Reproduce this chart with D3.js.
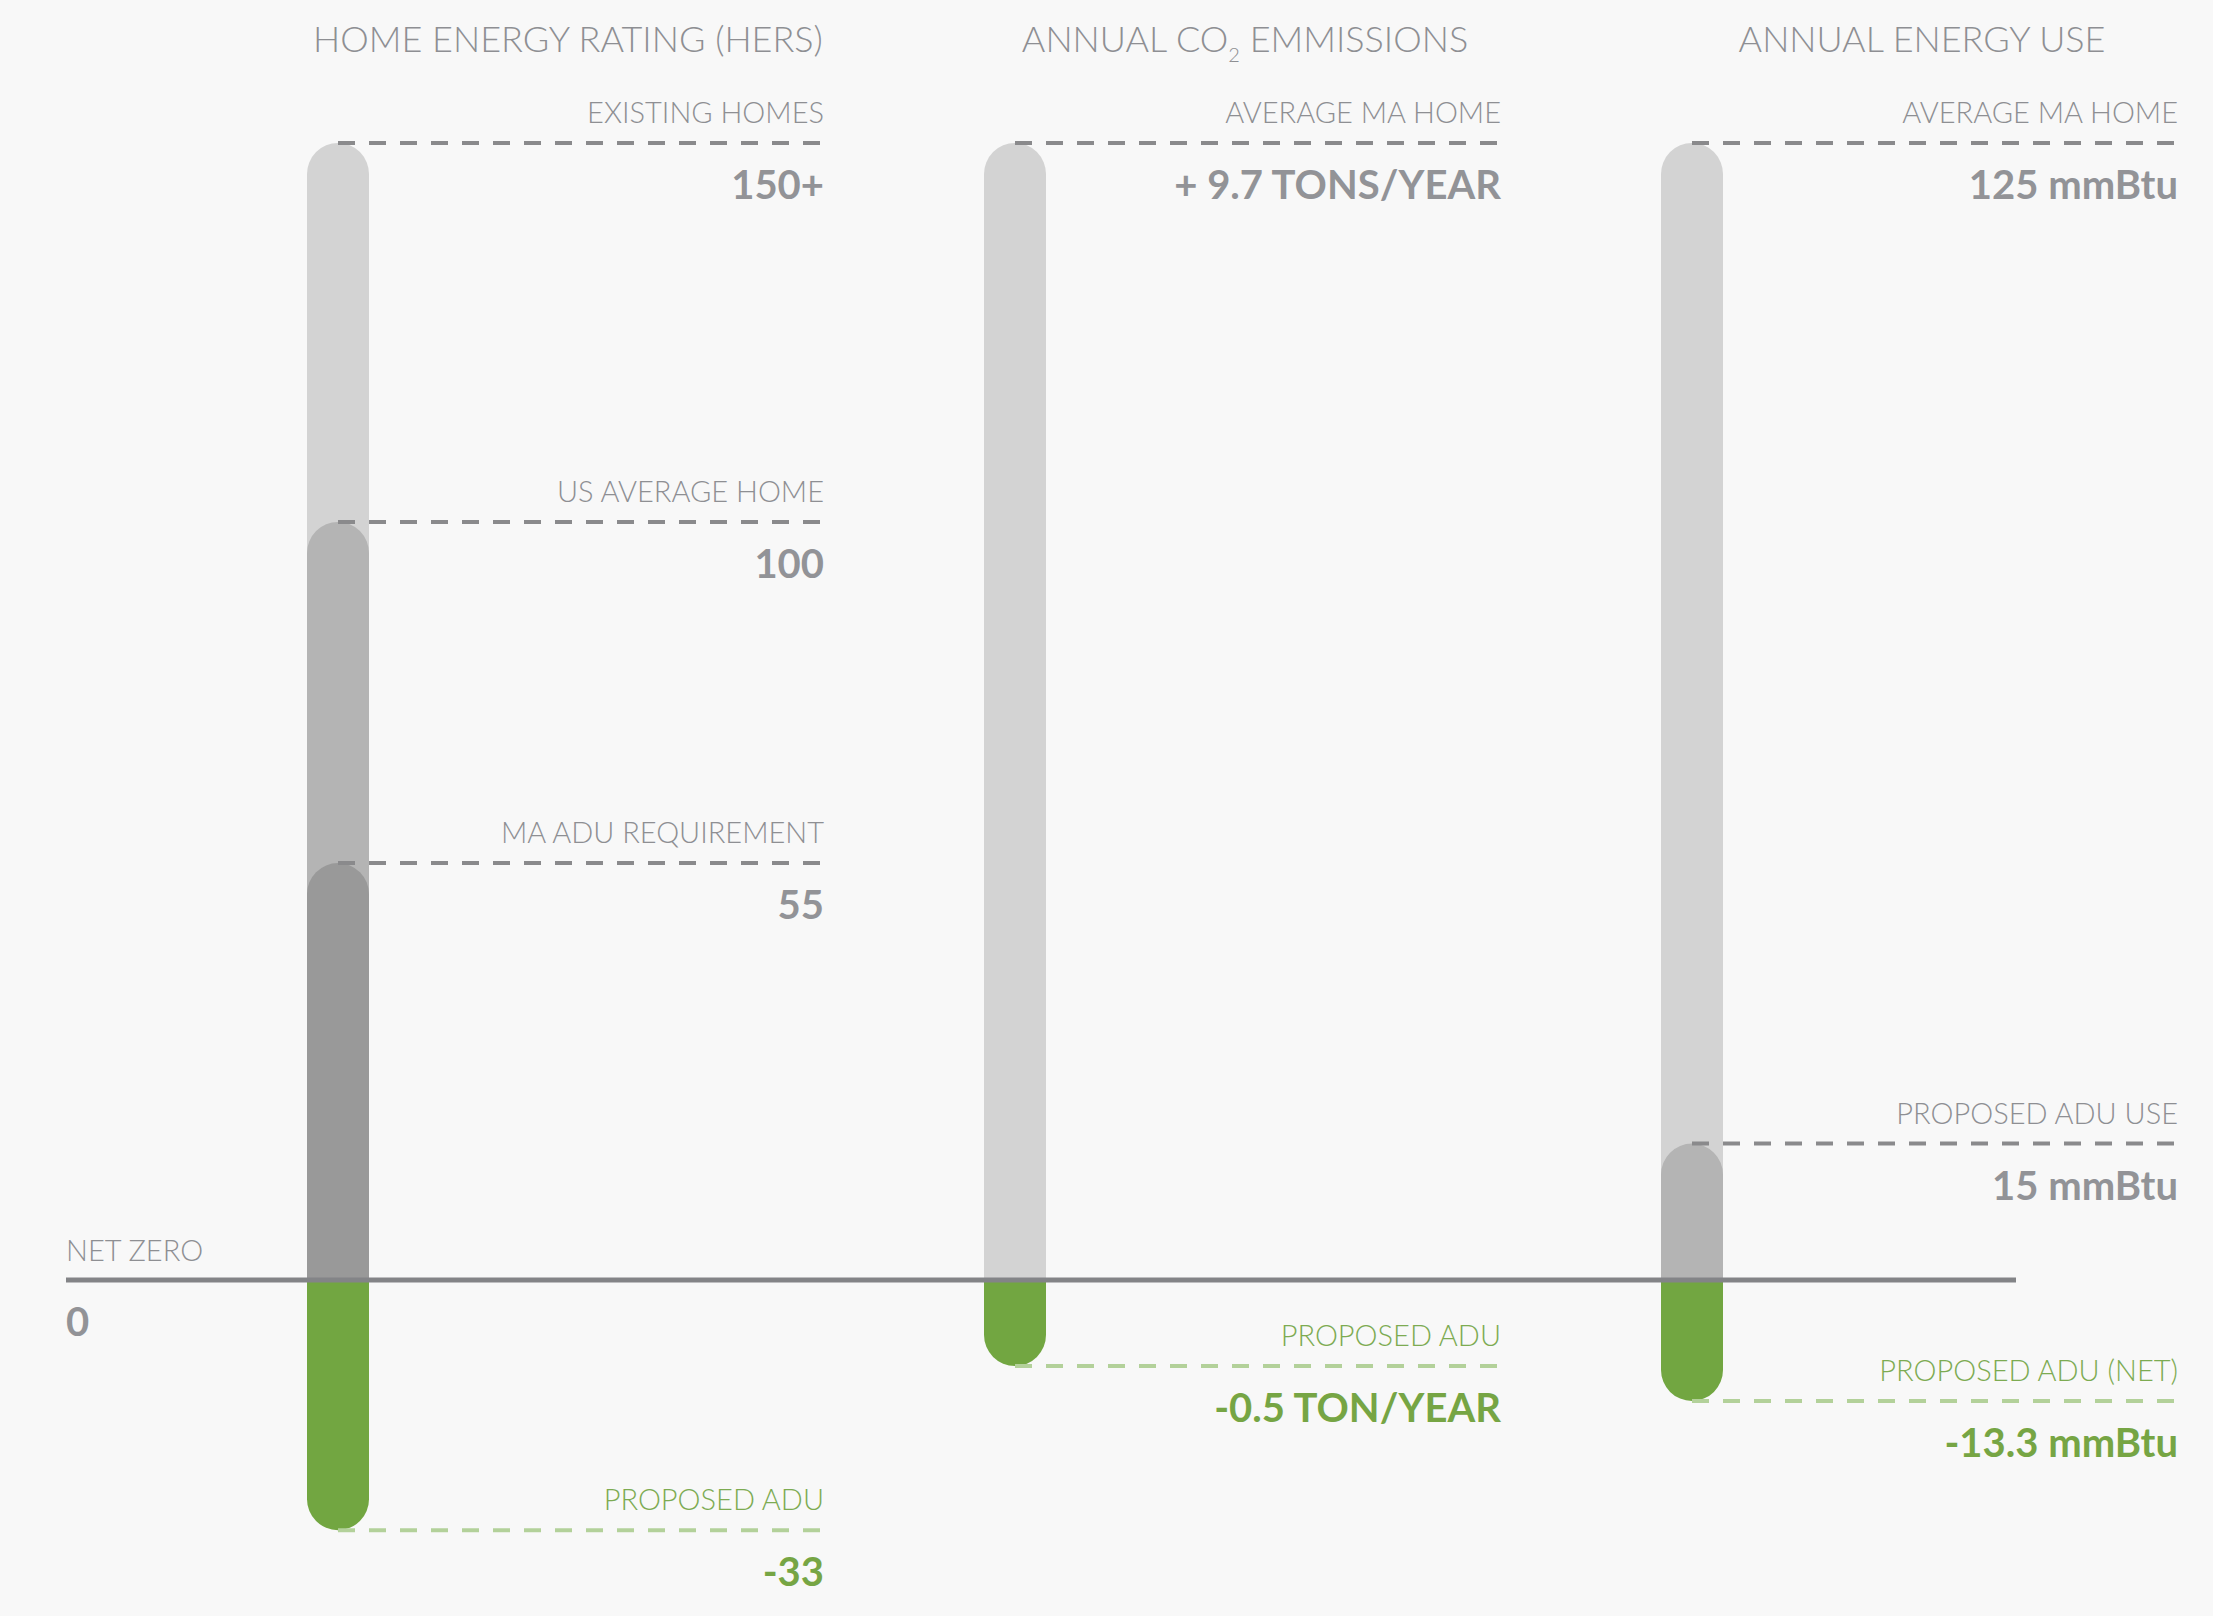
<!DOCTYPE html>
<html>
<head>
<meta charset="utf-8">
<script src="https://cdn.jsdelivr.net/npm/d3@7"></script>
<style>
  html, body { margin: 0; padding: 0; background: #f8f8f8; }
  svg { display: block; }
  .title { font-family: Lato, sans-serif; font-weight: 300; font-size: 36px; fill: #8e8f93; }
  .label { font-family: Lato, sans-serif; font-weight: 300; font-size: 29px; fill: #8e8f93; }
  .value { font-family: Lato, sans-serif; font-weight: 700; font-size: 40px; fill: #929397; }
  .neg.label { fill: #7dab52; }
  .neg.value { fill: #76a544; }
</style>
</head>
<body>
<div id="graph-container"></div>
<script>
// column titles
const titles = ['HOME ENERGY RATING (HERS)', 'ANNUAL CO|2| EMMISSIONS', 'ANNUAL ENERGY USE'];

// HERS rating
const hersLabels = ['EXISTING HOMES', 'US AVERAGE HOME', 'MA ADU REQUIREMENT', 'PROPOSED ADU'];
const hersValues = [150, 100, 55, -33];
const hersText = ['150+', '100', '55', '-33'];

// CO2 emissions (tons / year)
const co2Labels = ['AVERAGE MA HOME', 'PROPOSED ADU'];
const co2Values = [9.7, -0.5];
const co2Text = ['+ 9.7 TONS/YEAR', '-0.5 TON/YEAR'];

// energy use (mmBtu)
const energyLabels = ['AVERAGE MA HOME', 'PROPOSED ADU USE', 'PROPOSED ADU (NET)'];
const energyValues = [125, 15, -13.3];
const energyText = ['125 mmBtu', '15 mmBtu', '-13.3 mmBtu'];

const zeroLabel = 'NET ZERO';
const zeroText = '0';

const WIDTH = 2213;
const HEIGHT = 1616;
const ZERO_Y = 1280;
const TOP_Y = 143;
const BAR_W = 62;
const R = BAR_W / 2;
const DASH_LEN = 486;
const MIN_NEG = 86;

const greys = ['#d3d3d3', '#b4b4b4', '#999999'];
const green = '#72a641';

const columns = [
  {title: titles[0], labels: hersLabels, values: hersValues, text: hersText},
  {title: titles[1], labels: co2Labels, values: co2Values, text: co2Text},
  {title: titles[2], labels: energyLabels, values: energyValues, text: energyText}
];

const xScale = d3.scalePoint()
                 .domain(d3.range(columns.length))
                 .range([338, 1692]);

const svg = d3.select('#graph-container')
              .append('svg')
              .attr('width', WIDTH)
              .attr('height', HEIGHT);

const topCap = (x, yTop, yBot) =>
  `M${x - R},${yBot}L${x - R},${yTop + R}A${R},${R} 0 0 1 ${x + R},${yTop + R}L${x + R},${yBot}Z`;

const bottomCap = (x, yTop, yBot) =>
  `M${x - R},${yTop}L${x + R},${yTop}L${x + R},${yBot - R}A${R},${R} 0 0 1 ${x - R},${yBot - R}Z`;

// one linear scale per column, 0 at the net zero line, max at the top
const colScale = col => d3.scaleLinear()
                          .domain([0, d3.max(col.values)])
                          .range([ZERO_Y, TOP_Y]);

// y of a marker (tiny negatives get a minimum visible length)
const markY = (scale, v) => v >= 0 ? scale(v) : Math.max(scale(v), ZERO_Y + MIN_NEG);

columns.forEach((col, i) => {
  const cx = xScale(i);
  const yScale = colScale(col);

  const g = svg.append('g').attr('class', 'column');

  // title (with subscript for CO2)
  const t = g.append('text')
             .attr('class', 'title')
             .attr('x', cx + 230)
             .attr('y', 52)
             .attr('text-anchor', 'middle');
  col.title.split('|').forEach((part, k) => {
    if (k === 1) {
      t.append('tspan').attr('dy', 10).style('font-size', '20px').text(part);
    } else if (k === 2) {
      t.append('tspan').attr('dy', -10).text(part);
    } else {
      t.append('tspan').text(part);
    }
  });

  const pos = col.values.map((v, k) => ({v, k})).filter(d => d.v >= 0);
  const neg = col.values.map((v, k) => ({v, k})).filter(d => d.v < 0);

  g.selectAll('path.pos')
   .data(pos)
   .enter()
   .append('path')
   .attr('class', 'pos')
   .attr('d', d => topCap(cx, markY(yScale, d.v), ZERO_Y))
   .attr('fill', (d, j) => greys[j]);

  g.selectAll('path.neg')
   .data(neg)
   .enter()
   .append('path')
   .attr('class', 'neg')
   .attr('d', d => bottomCap(cx, ZERO_Y, markY(yScale, d.v)))
   .attr('fill', green);
});

// net zero line
svg.append('line')
   .attr('x1', 66)
   .attr('x2', 2016)
   .attr('y1', ZERO_Y)
   .attr('y2', ZERO_Y)
   .attr('stroke', '#838487')
   .attr('stroke-width', 5);

svg.append('text')
   .attr('class', 'label')
   .attr('x', 66)
   .attr('y', ZERO_Y - 19)
   .text(zeroLabel);

svg.append('text')
   .attr('class', 'value')
   .attr('x', 66)
   .attr('y', ZERO_Y + 56)
   .text(zeroText);

// marker lines and labels on top of the bars
columns.forEach((col, i) => {
  const cx = xScale(i);
  const yScale = colScale(col);

  const m = svg.append('g')
               .selectAll('g')
               .data(col.values.map((v, k) => ({v, label: col.labels[k], text: col.text[k]})))
               .enter()
               .append('g')
               .attr('class', d => d.v < 0 ? 'neg' : 'pos');

  m.append('line')
   .attr('x1', cx)
   .attr('x2', cx + DASH_LEN)
   .attr('y1', d => markY(yScale, d.v))
   .attr('y2', d => markY(yScale, d.v))
   .attr('stroke', d => d.v < 0 ? '#b3d19a' : '#8a8a8c')
   .attr('stroke-width', 4)
   .attr('stroke-dasharray', '17,14');

  m.append('text')
   .attr('class', d => d.v < 0 ? 'label neg' : 'label')
   .attr('x', cx + DASH_LEN)
   .attr('y', d => markY(yScale, d.v) - 20)
   .attr('text-anchor', 'end')
   .text(d => d.label);

  m.append('text')
   .attr('class', d => d.v < 0 ? 'value neg' : 'value')
   .attr('x', cx + DASH_LEN)
   .attr('y', d => markY(yScale, d.v) + 56)
   .attr('text-anchor', 'end')
   .text(d => d.text);
});
</script>
</body>
</html>
